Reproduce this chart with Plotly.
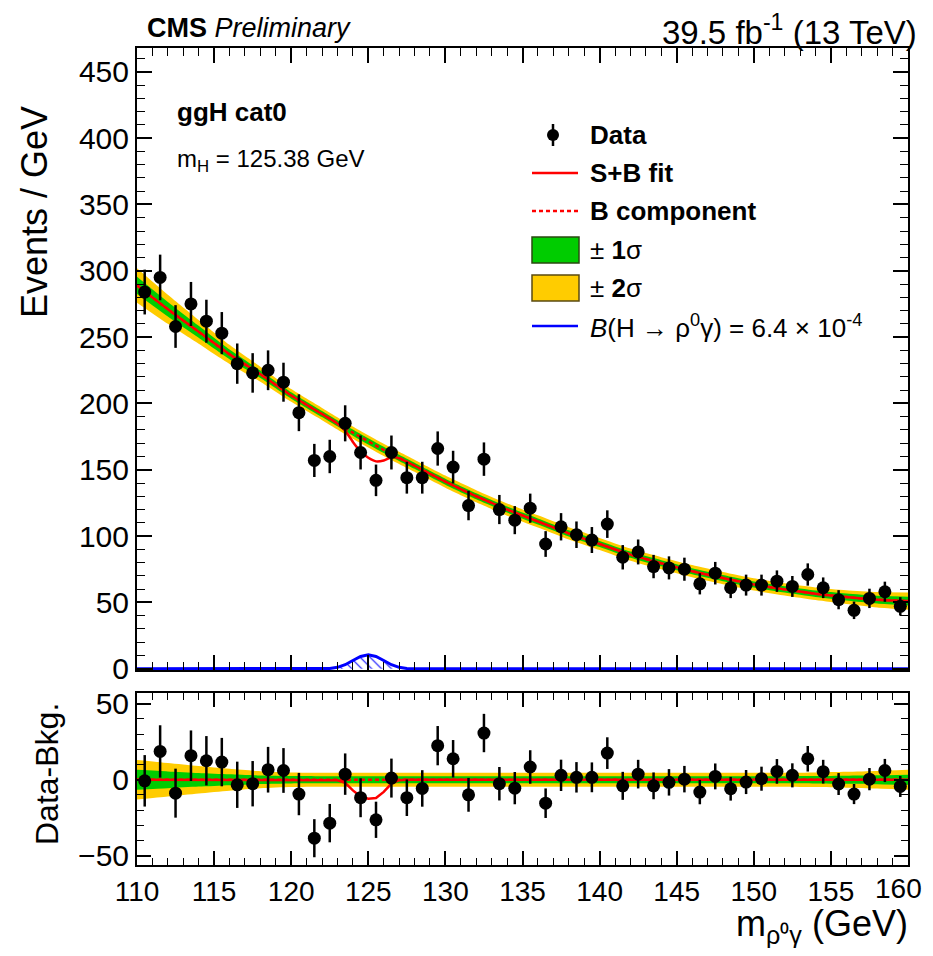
import plotly.graph_objects as go

# ---------------- data ----------------
bin_centers = [110.5 + i for i in range(50)]
data_counts = [284, 295, 258, 275, 262, 253, 230, 223, 225, 216,
               193, 157, 160, 185, 163, 142, 163, 144, 144, 166,
               152, 123, 158, 120, 112, 121, 94, 107, 101, 97,
               109, 84, 88, 77, 76, 75, 64, 72, 61, 63,
               63, 66, 62, 71, 61, 52, 44, 53, 58, 47]
data_errors = [16.9, 17.2, 16.1, 16.6, 16.2, 15.9, 15.2, 14.9, 15.0, 14.7,
               13.9, 12.5, 12.6, 13.6, 12.8, 11.9, 12.8, 12.0, 12.0, 12.9,
               12.3, 11.1, 12.6, 11.0, 10.6, 11.0, 9.7, 10.3, 10.0, 9.8,
               10.4, 9.2, 9.4, 8.8, 8.7, 8.7, 8.0, 8.5, 7.8, 7.9,
               7.9, 8.1, 7.9, 8.4, 7.8, 7.2, 6.6, 7.3, 7.6, 6.9]
residuals = [-0.7, 18.6, -8.8, 15.8, 12.5, 11.6, -3.3, -2.6, 6.6, 6.1,
             -9.4, -38.4, -28.5, 3.7, -11.8, -26.3, 1.1, -11.8, -5.7, 22.4,
             13.8, -9.9, 30.7, -2.6, -5.5, 8.4, -15.4, 2.9, 1.6, 1.6,
             17.5, -4.0, 3.7, -4.0, -1.7, 0.4, -8.1, 2.2, -5.9, -1.5,
             0.7, 5.5, 2.9, 13.8, 5.3, -2.8, -9.4, 0.4, 6.1, -4.4]

# background component (B) curve
bkg_x = [110, 112, 114, 116, 118, 120, 122, 124, 126, 128, 130, 132, 134,
         136, 138, 140, 142, 144, 146, 148, 150, 152, 154, 156, 158, 160]
bkg_y = [289, 271, 254, 237, 222, 206, 192, 178, 165, 153, 141, 130, 120,
         111, 102, 94, 86, 79.5, 73.5, 68.3, 63.5, 59.8, 56.5, 54, 52, 51]
band1_w = [6.5, 5.5, 4.5, 3.6, 2.8, 2.4, 2.3, 2.3, 2.3, 2.3, 2.3, 2.3, 2.3,
           2.3, 2.3, 2.3, 2.3, 2.3, 2.3, 2.3, 2.3, 2.3, 2.4, 2.6, 2.9, 3.3]
band2_w = [13, 11, 9, 7.2, 5.6, 4.8, 4.6, 4.6, 4.6, 4.6, 4.6, 4.6, 4.6,
           4.6, 4.6, 4.6, 4.6, 4.6, 4.6, 4.6, 4.6, 4.6, 4.8, 5.2, 5.8, 6.5]

# S+B fit in the signal region (main panel)
sb_dip_x = [122.5, 123, 123.5, 124, 124.5, 125, 125.5, 126, 126.5, 127, 127.5]
sb_dip_y = [188.5, 184.7, 179.5, 171, 163.8, 159, 156.3, 157, 159.5, 158.7, 156]

# S+B minus B (lower panel)
dip_x = [110, 122.5, 123, 123.5, 124, 124.5, 125, 125.5, 126, 126.5, 127, 127.5, 160]
dip_y = [0, 0, -0.3, -2, -7, -11, -12.5, -12, -8, -2.5, -0.3, 0, 0]

# expected signal shape for B(H -> rho gamma) = 6.4e-4
sig_x = [110, 122, 122.5, 123, 123.5, 124, 124.5, 125, 125.5, 126, 126.5, 127, 127.5, 128, 160]
sig_y = [0, 0, 0.2, 1.0, 3.0, 6.2, 9.2, 10.5, 9.2, 6.2, 3.0, 1.0, 0.2, 0, 0]

x_ticks = [110, 115, 120, 125, 130, 135, 140, 145, 150, 155, 160]
x_ticktext = ["110", "115", "120", "125", "130", "135", "140", "145", "150", "155", ""]
x_last_label = "160"
y_ticks = [0, 50, 100, 150, 200, 250, 300, 350, 400, 450]
r_ticks = [-50, 0, 50]

# ---------------- styling ----------------
FONT = "Liberation Sans, Arial, Helvetica, sans-serif"
YEL = "#ffcc00"
GRN = "#00cc00"
RED = "#ff0000"
BLU = "#0000ff"

# page body has an 8px margin: work in reference pixels, shift by OFF
OFF = 8
FIG_W, FIG_H = 933 - OFF, 956 - 2 * OFF
L, R, T, B = 137 - OFF, 908 - OFF, 48 - OFF, 865 - OFF
W, H = R - L, B - T


def px(x):
    return (x - OFF - L) / W


def py(y):
    return (B - (y - OFF)) / H


fig = go.Figure()

# ---- main panel bands ----
b2_lo = [b - w for b, w in zip(bkg_y, band2_w)]
b2_hi = [b + w for b, w in zip(bkg_y, band2_w)]
b1_lo = [b - w for b, w in zip(bkg_y, band1_w)]
b1_hi = [b + w for b, w in zip(bkg_y, band1_w)]
sp = dict(shape="spline", smoothing=0.6, width=0)

fig.add_trace(go.Scatter(x=bkg_x, y=b2_lo, mode="lines", line=dict(color=YEL, **sp),
                         showlegend=False, hoverinfo="skip", xaxis="x", yaxis="y"))
fig.add_trace(go.Scatter(x=bkg_x, y=b2_hi, mode="lines", line=dict(color=YEL, **sp),
                         fill="tonexty", fillcolor=YEL, showlegend=False, hoverinfo="skip",
                         xaxis="x", yaxis="y"))
fig.add_trace(go.Scatter(x=bkg_x, y=b1_lo, mode="lines", line=dict(color=GRN, **sp),
                         showlegend=False, hoverinfo="skip", xaxis="x", yaxis="y"))
fig.add_trace(go.Scatter(x=bkg_x, y=b1_hi, mode="lines", line=dict(color=GRN, **sp),
                         fill="tonexty", fillcolor=GRN, showlegend=False, hoverinfo="skip",
                         xaxis="x", yaxis="y"))

# B component (dashed) and S+B fit
fig.add_trace(go.Scatter(x=bkg_x, y=bkg_y, mode="lines",
                         line=dict(color=RED, width=2.5, dash="4px,3px", shape="spline", smoothing=0.6),
                         showlegend=False, xaxis="x", yaxis="y"))
sb_x = [x for x in bkg_x if x <= 122] + sb_dip_x + [x for x in bkg_x if x >= 128]
sb_y = [y for x, y in zip(bkg_x, bkg_y) if x <= 122] + sb_dip_y + \
       [y for x, y in zip(bkg_x, bkg_y) if x >= 128]
fig.add_trace(go.Scatter(x=sb_x, y=sb_y, mode="lines",
                         line=dict(color=RED, width=2.5, shape="spline", smoothing=0.4),
                         showlegend=False, xaxis="x", yaxis="y"))

# signal shape (hatched)
fig.add_trace(go.Scatter(x=sig_x, y=sig_y, mode="lines",
                         line=dict(color=BLU, width=3),
                         fill="tozeroy", fillcolor="rgba(0,0,0,0)",
                         fillpattern=dict(shape="\\", fgcolor=BLU, bgcolor="rgba(0,0,0,0)",
                                          size=7, solidity=0.15),
                         showlegend=False, xaxis="x", yaxis="y"))

# data
fig.add_trace(go.Scatter(x=bin_centers, y=data_counts, mode="markers",
                         marker=dict(color="black", size=13),
                         error_y=dict(type="data", array=data_errors, color="black",
                                      thickness=2.5, width=0),
                         showlegend=False, xaxis="x", yaxis="y"))

# ---- lower panel ----
zero = [0 for _ in bkg_x]
fig.add_trace(go.Scatter(x=bkg_x, y=[-w for w in band2_w], mode="lines", line=dict(color=YEL, **sp),
                         showlegend=False, hoverinfo="skip", xaxis="x2", yaxis="y2"))
fig.add_trace(go.Scatter(x=bkg_x, y=band2_w, mode="lines", line=dict(color=YEL, **sp),
                         fill="tonexty", fillcolor=YEL, showlegend=False, hoverinfo="skip",
                         xaxis="x2", yaxis="y2"))
fig.add_trace(go.Scatter(x=bkg_x, y=[-w for w in band1_w], mode="lines", line=dict(color=GRN, **sp),
                         showlegend=False, hoverinfo="skip", xaxis="x2", yaxis="y2"))
fig.add_trace(go.Scatter(x=bkg_x, y=band1_w, mode="lines", line=dict(color=GRN, **sp),
                         fill="tonexty", fillcolor=GRN, showlegend=False, hoverinfo="skip",
                         xaxis="x2", yaxis="y2"))
fig.add_trace(go.Scatter(x=bkg_x, y=zero, mode="lines",
                         line=dict(color=RED, width=2.5, dash="4px,3px"),
                         showlegend=False, xaxis="x2", yaxis="y2"))
fig.add_trace(go.Scatter(x=dip_x, y=dip_y, mode="lines",
                         line=dict(color=RED, width=2.5),
                         showlegend=False, xaxis="x2", yaxis="y2"))
fig.add_trace(go.Scatter(x=bin_centers, y=residuals, mode="markers",
                         marker=dict(color="black", size=13),
                         error_y=dict(type="data", array=data_errors, color="black",
                                      thickness=2.5, width=0),
                         showlegend=False, xaxis="x2", yaxis="y2"))

# ---------------- axes ----------------
axis_common = dict(showline=True, linecolor="black", linewidth=2, mirror="allticks",
                   ticks="inside", tickcolor="black", tickwidth=1.5,
                   showgrid=False, zeroline=False, automargin=False,
                   ticklabeloverflow="allow")
yfont = dict(family=FONT, size=30, color="black")
xfont = dict(family=FONT, size=28, color="black")

main_bottom = py(670)
ratio_top = py(693)

fig.update_layout(
    template="none",
    xaxis=dict(domain=[0, 1], range=[110, 160.0001], anchor="y", tickvals=x_ticks,
               showticklabels=False, ticklen=15, tickfont=xfont,
               minor=dict(ticks="inside", dtick=1, tick0=110, ticklen=8, tickwidth=1.2,
                          tickcolor="black"),
               **axis_common),
    yaxis=dict(domain=[main_bottom, 1], range=[-1, 468], anchor="x", tickvals=y_ticks,
               ticklen=15, tickfont=yfont,
               minor=dict(ticks="inside", dtick=10, tick0=0, ticklen=8, tickwidth=1.2,
                          tickcolor="black"),
               **axis_common),
    xaxis2=dict(domain=[0, 1], range=[110, 160.0001], anchor="y2", tickvals=x_ticks,
                ticktext=x_ticktext,
                ticklen=14, tickfont=xfont,
                minor=dict(ticks="inside", dtick=1, tick0=110, ticklen=7, tickwidth=1.2,
                           tickcolor="black"),
                **axis_common),
    yaxis2=dict(domain=[0, ratio_top], range=[-56, 57], anchor="x2", tickvals=r_ticks,
                ticklen=14, tickfont=yfont,
                minor=dict(ticks="inside", dtick=10, tick0=0, ticklen=7, tickwidth=1.2,
                           tickcolor="black"),
                **axis_common),
)

# ---------------- text ----------------
ann = []


def add_text(text, x, y, size, xanchor="left", angle=0, yanchor="middle"):
    ann.append(dict(text=text, x=px(x), y=py(y), xref="paper", yref="paper",
                    xanchor=xanchor, yanchor=yanchor, showarrow=False, textangle=angle,
                    font=dict(family=FONT, size=size, color="black")))


add_text("<b>CMS</b> <i>Preliminary</i>", 145, 28, 27)
add_text("39.5 fb<sup>-1</sup> (13 TeV)", 919, 30, 33, xanchor="right")
add_text("<b>ggH cat0</b>", 175, 112, 26)
add_text("m<sub>H</sub> = 125.38 GeV", 175, 160, 24)
add_text("Events / GeV", 35, 212, 36, xanchor="center", angle=-90)
add_text("Data-Bkg.", 47, 774, 32, xanchor="center", angle=-90)
add_text("m<sub>ρ⁰γ</sub> (GeV)", 910, 926, 36, xanchor="right")
# last x tick label, kept inside the visible page
add_text(x_last_label, 924, 888, 28, xanchor="right")

# legend
leg_x_text = 588
leg_rows = [135, 173, 211, 250, 288, 326]
add_text("<b>Data</b>", leg_x_text, leg_rows[0], 26)
add_text("<b>S+B fit</b>", leg_x_text, leg_rows[1], 26)
add_text("<b>B component</b>", leg_x_text, leg_rows[2], 26)
add_text("± <b>1</b>σ", leg_x_text, leg_rows[3], 26)
add_text("± <b>2</b>σ", leg_x_text, leg_rows[4], 26)
add_text("<i>B</i>(H → ρ<sup>0</sup>γ) = 6.4 × 10<sup>-4</sup>", leg_x_text, leg_rows[5], 26)

shapes = []
# data marker symbol
shapes.append(dict(type="line", xref="paper", yref="paper",
                   x0=px(553), x1=px(553), y0=py(124), y1=py(146),
                   line=dict(color="black", width=2.5)))
shapes.append(dict(type="circle", xref="paper", yref="paper",
                   x0=px(547), x1=px(559), y0=py(129), y1=py(141),
                   fillcolor="black", line=dict(color="black", width=0)))
# lines
shapes.append(dict(type="line", xref="paper", yref="paper",
                   x0=px(532), x1=px(578), y0=py(leg_rows[1]), y1=py(leg_rows[1]),
                   line=dict(color=RED, width=2.5)))
shapes.append(dict(type="line", xref="paper", yref="paper",
                   x0=px(532), x1=px(578), y0=py(leg_rows[2]), y1=py(leg_rows[2]),
                   line=dict(color=RED, width=2.5, dash="4px,3px")))
shapes.append(dict(type="line", xref="paper", yref="paper",
                   x0=px(532), x1=px(578), y0=py(leg_rows[5]), y1=py(leg_rows[5]),
                   line=dict(color=BLU, width=2.5)))
# boxes
shapes.append(dict(type="rect", xref="paper", yref="paper",
                   x0=px(532), x1=px(579), y0=py(263), y1=py(237),
                   fillcolor=GRN, line=dict(color="#2a4a10", width=1.5)))
shapes.append(dict(type="rect", xref="paper", yref="paper",
                   x0=px(532), x1=px(579), y0=py(301), y1=py(275),
                   fillcolor=YEL, line=dict(color="#5a4a10", width=1.5)))

fig.update_layout(
    width=FIG_W, height=FIG_H,
    margin=dict(l=L, r=FIG_W - R, t=T, b=FIG_H - B, pad=0),
    paper_bgcolor="white", plot_bgcolor="white",
    showlegend=False,
    annotations=ann, shapes=shapes,
    font=dict(family=FONT, color="black"),
)

fig.write_html("out.html")
